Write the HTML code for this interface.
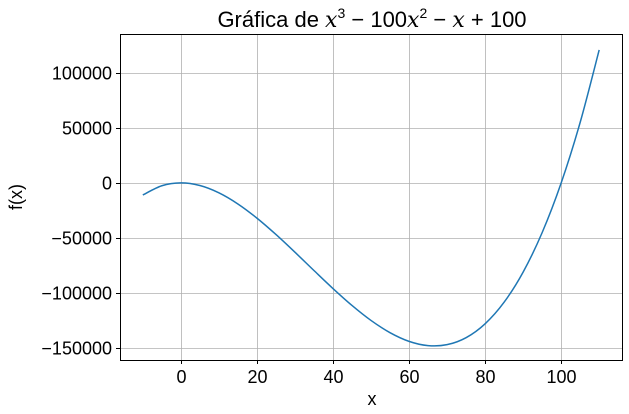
<!DOCTYPE html>
<html><head><meta charset="utf-8"><style>
html,body{margin:0;padding:0;background:#fff;}
svg{display:block;font-family:"Liberation Sans","DejaVu Sans",sans-serif;}
</style></head><body>
<svg id="chart" width="629" height="414" viewBox="0 0 629 414">
<text x="372" y="27" text-anchor="middle" font-size="22" fill="#000">Gráfica de <tspan font-style="italic" font-family="DejaVu Serif,serif">x</tspan><tspan font-size="14" dy="-9">3</tspan><tspan dy="9"> − 100</tspan><tspan font-style="italic" font-family="DejaVu Serif,serif">x</tspan><tspan font-size="14" dy="-9">2</tspan><tspan dy="9"> − </tspan><tspan font-style="italic" font-family="DejaVu Serif,serif">x</tspan><tspan> + 100</tspan></text>
<g id="grid"></g>
<g id="xticks"></g>
<g id="yticks"></g>
<path id="curve" fill="none" stroke="#1f77b4" stroke-width="1.5"/>
<rect x="120.5" y="34.5" width="502" height="326" fill="none" stroke="#000" stroke-width="1"/>
<text x="372" y="405" text-anchor="middle" font-size="18">x</text>
<text transform="translate(22,197) rotate(-90)" text-anchor="middle" font-size="18">f(x)</text>
</svg>
<script>
const xValues=[-10,-5,0,5,10,15,20,25,30,35,40,45,50,55,60,65,70,75,80,85,90,95,100,105,110];
const yValues=[-10890,-2520,100,-2280,-8910,-19040,-31920,-46800,-62930,-79560,-95940,-111320,-124950,-136080,-143960,-147840,-146970,-140600,-127980,-108360,-80990,-45120,0,55120,120990];
const xTicks=[0,20,40,60,80,100];
const yTicks=[-150000,-100000,-50000,0,50000,100000];
const X0=120,X1=622,Y0=34,Y1=360;
const xMin=-16,xMax=116,yMin=-160909,yMax=135454;
const sx=v=>X0+(v-xMin)/(xMax-xMin)*(X1-X0);
const sy=v=>Y1-(v-yMin)/(yMax-yMin)*(Y1-Y0);
const NS="http://www.w3.org/2000/svg";
const grid=document.getElementById('grid'),gx=document.getElementById('xticks'),gy=document.getElementById('yticks');
function mk(t,a,p){const e=document.createElementNS(NS,t);for(const k in a)e.setAttribute(k,a[k]);p.appendChild(e);return e;}
xTicks.forEach(v=>{const x=Math.round(sx(v))+0.5;
 const g=mk('line',{x1:x,x2:x,y1:Y0,y2:Y1,stroke:'#b0b0b0','stroke-width':0.8},grid);
 
 
 const t=mk('line',{x1:x,x2:x,y1:Y1,y2:Y1+4,stroke:'#000'},gx);
 
 
 const l=mk('text',{x:x,y:Y1+23,'text-anchor':'middle','font-size':18},gx);l.textContent=String(v);
 
 });
yTicks.forEach(v=>{const y=Math.round(sy(v))+0.5;
 const g=mk('line',{x1:X0,x2:X1,y1:y,y2:y,stroke:'#b0b0b0','stroke-width':0.8},grid);
 
 
 const t=mk('line',{x1:X0-4,x2:X0,y1:y,y2:y,stroke:'#000'},gy);
 
 
 const l=mk('text',{x:X0-8,y:y+6,'text-anchor':'end','font-size':18},gy);l.textContent=(v<0?'\u2212':'')+Math.abs(v);
 
 });
const pts=xValues.map((v,i)=>[sx(v),sy(yValues[i])]);
let d='M'+pts[0][0]+','+pts[0][1];
for(let i=0;i<pts.length-1;i++){const p0=pts[Math.max(0,i-1)],p1=pts[i],p2=pts[i+1],p3=pts[Math.min(pts.length-1,i+2)];
 const c1=[p1[0]+(p2[0]-p0[0])/6,p1[1]+(p2[1]-p0[1])/6],c2=[p2[0]-(p3[0]-p1[0])/6,p2[1]-(p3[1]-p1[1])/6];
 d+=' C'+c1+' '+c2+' '+p2;}
document.getElementById('curve').setAttribute('d',d);
</script>
</body></html>
